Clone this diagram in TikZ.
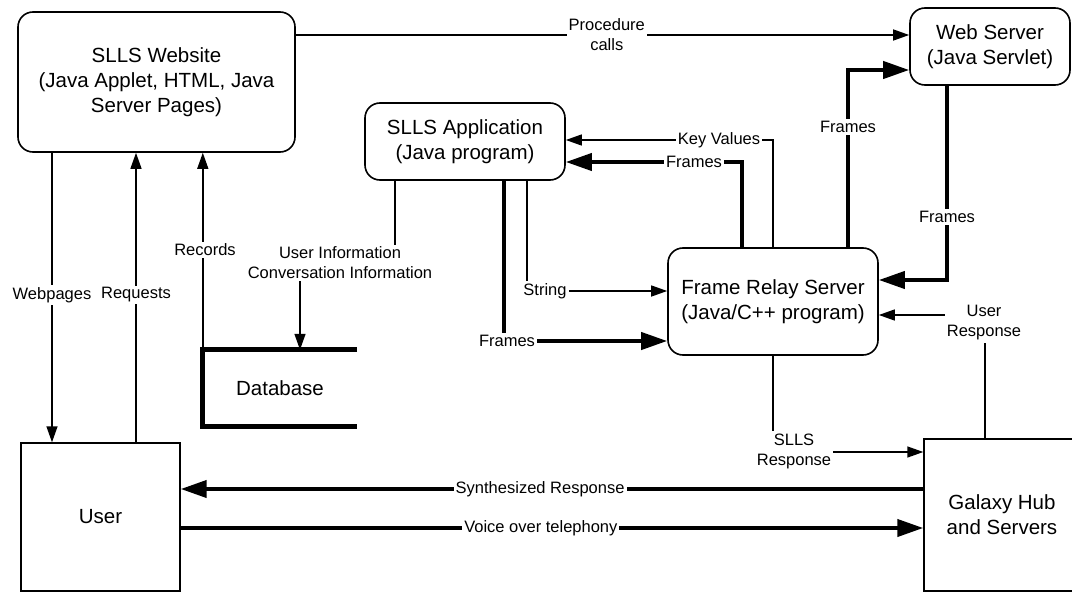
\documentclass[tikz,border=0pt]{standalone}
\usepackage{fontspec}
\setmainfont{Liberation Sans}
\usetikzlibrary{arrows.meta}
\newcommand\diagmain{\fontsize{20.5}{25}\selectfont}
\newcommand\diaglbl{\fontsize{16.5}{20}\selectfont}
\begin{document}
\begin{tikzpicture}[x=1pt,y=-1pt,
  rbox/.style={draw, line width=1.6pt, rounded corners=15pt, align=center, font=\diagmain, inner sep=0pt},
  sbox/.style={draw, line width=1.4pt, align=center, font=\diagmain, inner sep=0pt},
  lbl/.style={font=\diaglbl, align=center, inner sep=2pt},
  gap/.style={lbl, fill=white},
  flow/.style={line width=1.4pt},
  flowto/.style={flow, -{Triangle[length=16pt,width=11pt]}},
  bigflow/.style={line width=4pt},
  bigflowto/.style={bigflow, -{Triangle[length=26pt,width=17pt]}},
]
\useasboundingbox (0,0) rectangle (1072,594);
\clip (0,0) rectangle (1072,594);

% components
\node[rbox, minimum width=277pt, minimum height=140pt] (website) at (156.5,82)
  {SLLS Website\\(Java Applet, HTML, Java\\Server Pages)};
\node[rbox, minimum width=160pt, minimum height=77pt] (webserver) at (990,46.5)
  {Web Server\\(Java Servlet)};
\node[rbox, minimum width=200pt, minimum height=77pt] (app) at (465,141.5)
  {SLLS Application\\(Java program)};
\node[rbox, minimum width=210pt, minimum height=107pt] (relay) at (773,301.5)
  {Frame Relay Server\\(Java/C++ program)};
\node[sbox, minimum width=159pt, minimum height=148pt] (user) at (100.5,517) {User};
\node[sbox, minimum width=156pt, minimum height=152pt] (galaxy) at (1002,515)
  {Galaxy Hub\\and Servers};

% data store (open rectangle)
\node[font=\diagmain, minimum width=154pt, minimum height=76pt, inner sep=0pt] (db) at (280,388) {Database};
\draw[line width=5pt] (db.north east) -- (db.north west) -- (db.south west) -- (db.south east);

% website <-> web server
\draw[flowto] (website.east |- 0,35) -- node[gap,pos=0.507] (lProc) {Procedure\\calls} (webserver.west |- 0,35);

% website <-> user
\draw[flowto] (website.south -| 52,0) -- (user.north -| 52,0);
\node[gap] (lWeb) at (52,295) {Webpages};
\draw[flowto] (user.north -| 136,0) -- (website.south -| 136,0);
\node[gap] (lReq) at (136,295) {Requests};

% database -> website
\draw[flowto] (db.north west) -- (website.south -| db.north west);
\node[gap] (lRec) at (205,250) {Records};

% application -> database
\node[lbl] (lInfo) at (340,263) {User Information\\Conversation Information};
\draw[flow] (app.south -| 395,0) -- (lInfo.north -| 395,0);
\draw[flowto] (lInfo.south -| 300,0) -- (db.north -| 300,0);

% application -> frame relay
\node[lbl] (lStr) at (545,291) {String};
\draw[flow] (app.south -| 527,0) -- (lStr.north -| 527,0);
\draw[flowto] (lStr.east) -- (lStr.east -| relay.west);
\node[lbl] (lFr1) at (507,341) {Frames};
\draw[bigflow] (app.south -| 504,0) -- (lFr1.north -| 504,0);
\draw[bigflowto] (lFr1.east) -- (lFr1.east -| relay.west);

% frame relay -> application
\node[lbl] (lKey) at (719,140) {Key Values};
\draw[flow] (relay.north) |- (lKey.east);
\draw[flowto] (lKey.west) -- (lKey.west -| app.east);
\node[lbl] (lFr2) at (694,162) {Frames};
\draw[bigflow] (relay.north -| 742,0) |- (lFr2.east);
\draw[bigflowto] (lFr2.west) -- (lFr2.west -| app.east);

% frame relay <-> web server
\draw[bigflowto] (relay.north -| 848,0) |- (webserver.west |- 0,70);
\node[gap] (lFr3) at (848,127) {Frames};
\draw[bigflowto] (webserver.south -| 947,0) |- (relay.east |- 0,280);
\node[gap] (lFr4) at (947,217) {Frames};

% frame relay <-> galaxy
\node[lbl] (lUR) at (984,323) {User\\Response};
\draw[flow] (galaxy.north -| 985,0) -- (lUR.south -| 985,0);
\draw[flowto] (lUR.west |- 0,315) -- (relay.east |- 0,315);
\node[lbl] (lSR) at (794,451) {SLLS\\Response};
\draw[flow] (relay.south) -- (lSR.north -| relay.south);
\draw[flowto] (lSR.east |- 0,452) -- (galaxy.west |- 0,452);

% galaxy <-> user
\draw[bigflowto] (galaxy.west |- 0,489) -- node[gap,pos=0.516] (lSyn) {Synthesized Response} (user.east |- 0,489);
\draw[bigflowto] (user.east |- 0,528) -- node[gap,pos=0.485] (lVoice) {Voice over telephony} (galaxy.west |- 0,528);
\end{tikzpicture}
\end{document}
